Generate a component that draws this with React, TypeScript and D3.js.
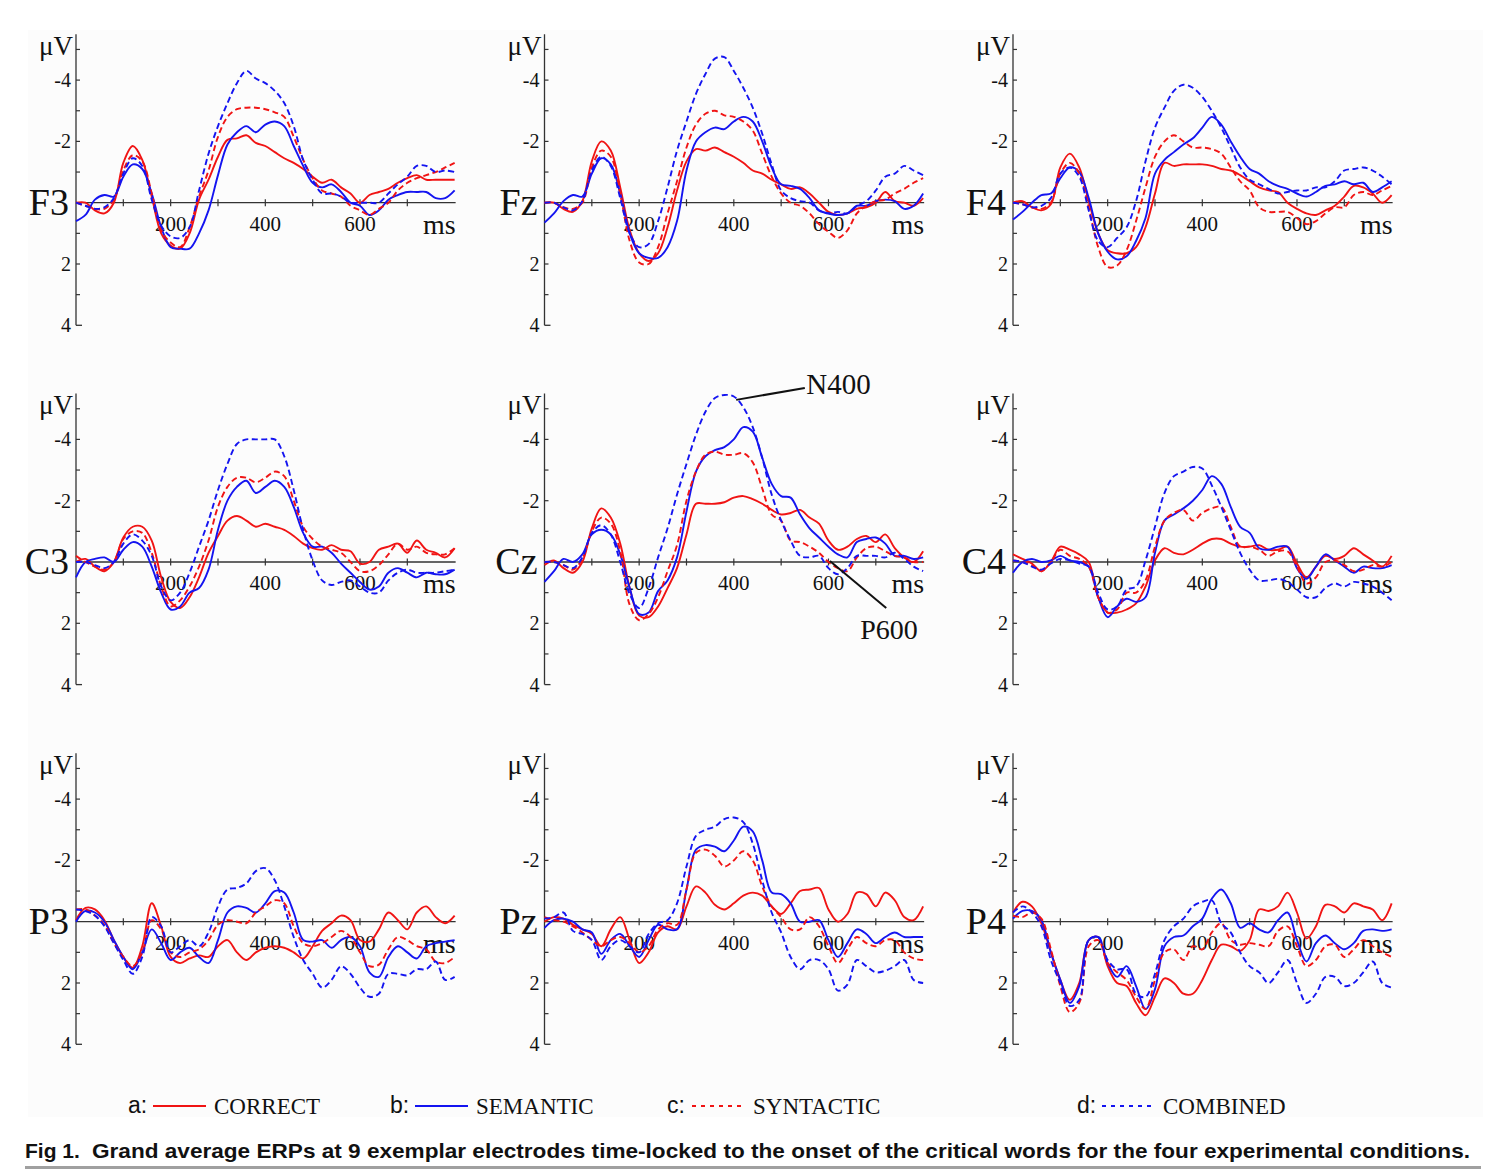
import React from "react";
import * as d3 from "d3";

// time axis (ms) shared by every trace
const TIME_MS = [
  0, 20, 40, 60, 80, 100, 120, 140, 160, 180, 200, 220, 240, 260, 280, 300, 320, 340, 360, 380, 400,
  420, 440, 460, 480, 500, 520, 540, 560, 580, 600, 620, 640, 660, 680, 700, 720, 740, 760, 780, 800,
];

// amplitudes in µV (negative plotted up)
const F3_CORRECT = [0, 0, 0.25, 0.35, 0, -1.3, -1.85, -1.4, -0.2, 1.0, 1.4, 1.5, 1.0, -0.1, -0.75, -1.5, -2.05, -2.1, -2.2, -1.95, -1.85, -1.65, -1.45, -1.3, -1.1, -0.85, -0.65, -0.75, -0.5, -0.3, 0, -0.25, -0.35, -0.45, -0.65, -0.8, -0.9, -0.75, -0.75, -0.75, -0.75];
const F3_SEMANTIC = [0.6, 0.4, -0.1, -0.25, -0.2, -0.85, -1.25, -1.1, -0.3, 0.8, 1.45, 1.5, 1.5, 1.0, 0.25, -0.9, -1.9, -2.3, -2.5, -2.3, -2.55, -2.65, -2.5, -1.85, -1.2, -0.65, -0.5, -0.6, -0.35, 0, 0.1, 0.4, 0.25, -0.1, -0.25, -0.35, -0.35, -0.35, -0.15, -0.15, -0.4];
const F3_SYNTACTIC = [0, 0.1, 0.2, 0.2, -0.1, -1.05, -1.55, -1.35, -0.3, 0.9, 1.3, 1.45, 0.8, -0.2, -1.05, -2.15, -2.8, -3.05, -3.1, -3.1, -3.05, -2.95, -2.8, -2.15, -1.4, -0.8, -0.4, -0.3, -0.2, 0.1, 0.25, 0.4, 0.2, 0, -0.4, -0.65, -0.8, -0.9, -1.0, -1.15, -1.3];
const F3_COMBINED = [0, 0.1, 0.2, 0.15, -0.15, -0.95, -1.45, -1.2, -0.1, 0.75, 1.1, 1.15, 0.8, -0.4, -1.6, -2.5, -3.25, -3.9, -4.3, -4.05, -3.9, -3.65, -3.25, -2.5, -1.4, -0.75, -0.3, -0.3, -0.2, 0, 0, 0, 0, -0.3, -0.6, -0.85, -1.2, -1.2, -1.0, -1.05, -1.0];

const FZ_CORRECT = [0, 0, 0.2, 0.3, -0.05, -1.35, -2.0, -1.7, -0.5, 0.9, 1.65, 1.9, 1.65, 0.8, -0.4, -1.35, -1.75, -1.7, -1.8, -1.65, -1.5, -1.3, -1.05, -0.95, -0.75, -0.6, -0.45, -0.5, -0.3, 0, 0.3, 0.4, 0.35, 0.2, 0.15, 0, -0.35, -0.05, 0, 0.1, -0.15];
const FZ_SEMANTIC = [0.65, 0.35, -0.05, -0.25, -0.2, -0.95, -1.45, -1.25, -0.3, 1.0, 1.65, 1.8, 1.8, 1.45, 0.6, -1.05, -2.0, -2.3, -2.45, -2.4, -2.65, -2.8, -2.65, -2.0, -1.15, -0.6, -0.55, -0.45, -0.15, 0.25, 0.35, 0.4, 0.35, 0.1, 0.1, -0.05, -0.1, -0.05, 0.2, 0.1, -0.3];
const FZ_SYNTACTIC = [0, 0, 0.15, 0.2, 0, -1.15, -1.7, -1.5, -0.3, 1.25, 1.95, 2.0, 1.45, 0.35, -0.7, -1.8, -2.55, -2.9, -3.0, -2.85, -2.8, -2.65, -2.35, -1.6, -0.85, -0.3, 0, 0.1, 0.35, 0.7, 0.95, 1.15, 0.9, 0.35, 0.1, -0.05, -0.1, -0.3, -0.45, -0.65, -0.8];
const FZ_COMBINED = [0, 0, 0.15, 0.25, -0.05, -1.05, -1.5, -1.2, -0.15, 1.0, 1.45, 1.35, 0.6, -0.5, -1.7, -2.65, -3.55, -4.2, -4.7, -4.75, -4.3, -3.75, -3.1, -2.25, -1.25, -0.4, -0.15, -0.05, 0, 0.25, 0.35, 0.3, 0.35, 0.1, -0.05, -0.4, -0.85, -0.95, -1.2, -1.05, -0.9];

const F4_CORRECT = [0, -0.05, 0.15, 0.25, 0.05, -1.15, -1.6, -1.15, -0.05, 1.0, 1.55, 1.65, 1.65, 1.45, 0.8, -0.3, -1.3, -1.2, -1.25, -1.25, -1.25, -1.2, -1.1, -1.05, -0.9, -0.7, -0.5, -0.4, -0.35, 0, 0.2, 0.35, 0.4, 0.25, 0.1, -0.2, -0.55, -0.5, -0.3, 0, -0.25];
const F4_SEMANTIC = [0.55, 0.3, 0, -0.25, -0.3, -0.8, -1.15, -1.0, -0.15, 1.0, 1.6, 1.85, 1.75, 1.25, 0.5, -0.95, -1.4, -1.65, -1.9, -2.1, -2.45, -2.8, -2.55, -2.0, -1.5, -1.1, -0.95, -0.7, -0.55, -0.45, -0.3, -0.2, -0.35, -0.55, -0.6, -0.7, -0.6, -0.65, -0.35, -0.5, -0.7];
const F4_SYNTACTIC = [0, 0.05, 0.15, 0.2, 0, -0.95, -1.3, -0.95, 0.15, 1.45, 2.1, 2.05, 1.55, 0.6, -0.5, -1.5, -2.0, -2.2, -2.0, -1.8, -1.8, -1.75, -1.6, -1.15, -0.7, -0.4, 0.15, 0.3, 0.3, 0.3, 0.5, 0.7, 0.6, 0.35, 0.15, 0.15, -0.25, -0.35, -0.25, -0.4, -0.55];
const F4_COMBINED = [0, 0.05, 0.15, 0.1, -0.15, -0.95, -1.15, -0.85, 0.25, 1.25, 1.45, 1.15, 0.8, -0.05, -1.35, -2.45, -3.1, -3.65, -3.85, -3.75, -3.45, -3.0, -2.45, -1.8, -1.15, -0.75, -0.6, -0.45, -0.3, -0.35, -0.4, -0.4, -0.5, -0.5, -0.7, -1.05, -1.1, -1.15, -1.05, -0.85, -0.6];

const C3_CORRECT = [0, -0.1, 0.15, 0.3, 0, -0.8, -1.15, -1.15, -0.7, 0.5, 1.3, 1.5, 1.15, 0.5, -0.3, -0.85, -1.35, -1.5, -1.35, -1.15, -1.25, -1.15, -1.05, -0.85, -0.6, -0.45, -0.4, -0.55, -0.4, -0.35, 0.05, 0, -0.4, -0.5, -0.6, -0.3, -0.7, -0.4, -0.3, -0.15, -0.45];
const C3_SEMANTIC = [0.5, 0, -0.1, -0.15, 0, -0.4, -0.65, -0.5, 0.15, 1.0, 1.55, 1.45, 1.0, 0.85, 0.25, -1.05, -2.0, -2.45, -2.65, -2.25, -2.45, -2.65, -2.45, -1.8, -0.95, -0.5, -0.5, -0.3, 0.05, 0.35, 0.65, 0.9, 0.8, 0.35, 0.2, 0.35, 0.5, 0.35, 0.4, 0.4, 0.25];
const C3_SYNTACTIC = [-0.2, 0, 0.15, 0.25, 0, -0.75, -1.0, -0.95, -0.3, 0.8, 1.45, 1.25, 0.8, 0.15, -0.7, -1.8, -2.45, -2.75, -2.75, -2.6, -2.75, -2.95, -2.8, -2.0, -1.15, -0.75, -0.5, -0.4, -0.3, 0, 0.3, 0.3, 0.1, -0.25, -0.6, -0.4, -0.5, -0.3, -0.25, -0.25, -0.45];
const C3_COMBINED = [0, 0, 0.1, 0.2, 0, -0.6, -0.9, -0.7, -0.2, 0.8, 1.25, 1.0, 0.35, -0.5, -1.35, -2.35, -3.2, -3.85, -4.0, -4.0, -4.0, -4.0, -3.45, -2.35, -1.05, -0.05, 0.6, 0.75, 0.65, 0.6, 0.8, 1.0, 1.0, 0.6, 0.35, 0.25, 0.35, 0.35, 0.35, 0.3, 0.25];

const CZ_CORRECT = [0.1, -0.05, 0.2, 0.35, 0, -1.1, -1.75, -1.45, -0.6, 0.85, 1.75, 1.8, 1.45, 0.85, 0.2, -0.9, -1.9, -1.9, -1.9, -1.95, -2.1, -2.15, -2.05, -1.9, -1.7, -1.55, -1.6, -1.7, -1.45, -1.25, -0.7, -0.4, -0.5, -0.75, -0.85, -0.65, -0.9, -0.45, -0.15, 0, -0.35];
const CZ_SEMANTIC = [0.65, 0.3, -0.1, 0, -0.25, -0.9, -1.05, -0.9, -0.25, 0.85, 1.7, 1.65, 0.95, 0.6, -0.15, -1.65, -2.95, -3.45, -3.65, -3.75, -4.0, -4.4, -4.25, -3.4, -2.55, -2.15, -2.1, -1.55, -1.1, -0.8, -0.5, -0.25, -0.15, -0.65, -0.75, -0.8, -0.6, -0.2, -0.2, -0.1, -0.15];
const CZ_SYNTACTIC = [0, 0, 0.1, 0.25, -0.1, -1.0, -1.45, -1.25, -0.35, 1.4, 1.9, 1.7, 1.15, 0.3, -0.55, -2.0, -2.95, -3.5, -3.6, -3.5, -3.5, -3.55, -3.25, -2.4, -1.55, -1.35, -0.7, -0.65, -0.5, -0.3, 0, 0.2, 0.3, -0.15, -0.45, -0.5, -0.35, -0.2, -0.15, 0, 0];
const CZ_COMBINED = [0, 0, 0.1, 0.2, -0.15, -0.95, -1.2, -0.9, 0, 1.05, 1.5, 0.85, -0.15, -1.1, -2.2, -3.2, -4.15, -4.9, -5.35, -5.45, -5.4, -5.05, -4.4, -3.4, -2.2, -1.35, -0.7, -0.2, -0.15, -0.2, 0.2, 0.4, 0.2, -0.2, -0.2, -0.2, -0.15, -0.3, -0.1, 0.15, 0.3];

const C4_CORRECT = [-0.25, -0.1, 0.05, 0.3, 0, -0.5, -0.4, -0.25, 0, 1.15, 1.65, 1.65, 1.55, 1.35, 0.8, -0.05, -0.45, -0.3, -0.25, -0.4, -0.6, -0.75, -0.75, -0.6, -0.5, -0.5, -0.55, -0.4, -0.4, -0.5, 0.05, 0.5, 0.15, -0.2, -0.1, -0.2, -0.45, -0.25, -0.05, 0.15, -0.2];
const C4_SEMANTIC = [0.35, 0, -0.1, 0, -0.05, -0.2, -0.05, 0, 0.15, 1.15, 1.8, 1.45, 1.2, 1.3, 1.15, -0.3, -1.35, -1.55, -1.75, -2.0, -2.35, -2.8, -2.55, -1.8, -1.15, -0.95, -0.45, -0.4, -0.5, -0.5, 0.2, 0.55, 0.15, -0.25, -0.05, 0.15, 0.35, 0.15, 0.2, 0.2, 0.1];
const C4_SYNTACTIC = [-0.05, 0, 0.1, 0.3, 0, -0.4, -0.2, -0.1, 0.15, 1.15, 1.65, 1.55, 1.0, 1.0, 0.6, -0.5, -1.35, -1.6, -1.7, -1.35, -1.6, -1.75, -1.8, -1.15, -0.5, -0.5, -0.4, -0.2, -0.35, -0.35, 0.15, 0.7, 0.5, 0, -0.05, 0.1, 0.3, 0.25, 0.1, 0.15, 0];
const C4_COMBINED = [-0.05, 0, 0.15, 0.25, 0.05, -0.1, -0.05, 0.05, 0.15, 1.0, 1.55, 1.45, 0.9, 0.8, -0.05, -1.15, -2.25, -2.8, -2.95, -3.1, -3.05, -2.5, -1.8, -1.05, -0.3, 0.25, 0.6, 0.6, 0.55, 0.65, 0.9, 1.15, 1.15, 0.85, 0.7, 0.8, 0.65, 0.7, 0.8, 1.0, 1.25];

const P3_CORRECT = [-0.05, -0.45, -0.4, -0.05, 0.6, 1.15, 1.5, 0.8, -0.6, 0.15, 1.15, 1.35, 1.2, 1.1, 1.15, 0.8, 0.6, 1.0, 1.25, 1.0, 0.85, 0.8, 0.85, 1.0, 1.2, 0.8, 0.3, 0.05, -0.2, -0.05, 0.6, 0.65, 0.25, -0.3, -0.05, 0.25, -0.3, -0.5, -0.15, 0.05, -0.2];
const P3_SEMANTIC = [0, -0.35, -0.3, 0, 0.6, 1.15, 1.55, 1.0, 0.25, 0.7, 1.25, 1.0, 0.85, 1.15, 1.35, 0.6, -0.3, -0.5, -0.45, -0.3, -0.6, -1.0, -0.95, -0.3, 0.6, 0.65, 0.6, 0.85, 0.6, 0.5, 0.8, 1.65, 1.8, 1.15, 0.8, 1.0, 1.2, 0.8, 0.7, 0.65, 0.6];
const P3_SYNTACTIC = [-0.4, -0.4, -0.2, 0.1, 0.7, 1.15, 1.45, 1.0, -0.05, 0.25, 1.0, 1.15, 1.0, 0.9, 0.6, 0.1, -0.05, 0, 0.05, -0.3, -0.5, -0.7, -0.6, 0.15, 0.7, 0.8, 0.7, 0.5, 0.3, 0.5, 1.0, 1.45, 1.4, 0.9, 0.5, 0.6, 0.8, 0.9, 1.3, 1.35, 1.15];
const P3_COMBINED = [-0.4, -0.35, -0.2, 0.15, 0.7, 1.25, 1.7, 1.15, -0.15, 0.15, 1.0, 0.8, 0.6, 0.8, 0.35, -0.5, -1.05, -1.1, -1.25, -1.65, -1.75, -1.35, -0.5, 0.5, 1.25, 1.7, 2.15, 1.9, 1.45, 1.7, 2.15, 2.45, 2.35, 1.7, 1.7, 1.75, 1.55, 1.55, 1.3, 1.9, 1.8];

const PZ_CORRECT = [0, -0.15, -0.1, 0.1, 0.25, 0.4, 0.8, 0.25, -0.15, 0.6, 1.35, 1.0, 0.35, 0.15, 0.25, -0.5, -1.15, -0.95, -0.55, -0.4, -0.6, -0.85, -0.95, -0.85, -0.5, -0.25, -0.6, -1.0, -1.05, -1.1, -0.4, 0, -0.25, -0.95, -0.9, -0.5, -0.95, -0.7, -0.15, -0.05, -0.5];
const PZ_SEMANTIC = [0.2, -0.05, -0.1, 0, 0.25, 0.35, 1.05, 0.6, 0.4, 0.8, 1.15, 0.6, 0.1, 0.25, 0.25, -1.05, -2.35, -2.5, -2.45, -2.3, -2.65, -3.1, -2.95, -2.0, -0.95, -0.9, -0.6, 0, 0, -0.05, 0.6, 1.15, 0.7, 0.25, 0.4, 0.7, 0.5, 0.35, 0.5, 0.5, 0.5];
const PZ_SYNTACTIC = [-0.15, -0.05, 0, 0.15, 0.35, 0.6, 0.8, 0.6, 0.5, 0.7, 1.0, 0.8, 0.25, 0.05, 0.1, -1.05, -2.25, -2.35, -2.15, -1.8, -2.0, -2.3, -2.0, -1.15, -0.5, -0.15, 0.25, 0.25, -0.15, 0.15, 0.8, 1.35, 0.9, 0.5, 0.7, 0.8, 0.6, 0.6, 1.0, 1.2, 1.25];
const PZ_COMBINED = [-0.1, -0.15, -0.3, 0.3, 0.4, 0.6, 1.25, 0.8, 0.6, 0.8, 1.0, 0.4, 0.05, -0.05, -0.6, -1.8, -2.8, -3.0, -3.1, -3.35, -3.4, -3.25, -2.55, -1.35, -0.3, 0.35, 1.15, 1.55, 1.25, 1.25, 1.55, 2.25, 2.05, 1.25, 1.45, 1.65, 1.6, 1.45, 1.25, 1.9, 2.0];

const P4_CORRECT = [-0.3, -0.65, -0.5, 0.05, 1.0, 1.9, 2.55, 2.0, 0.6, 0.5, 1.45, 2.0, 2.1, 2.65, 3.05, 2.45, 1.85, 2.0, 2.35, 2.35, 1.9, 1.25, 0.75, 0.8, 0.95, 0.6, -0.4, -0.35, -0.5, -0.95, -0.3, 0.55, 0.15, -0.55, -0.5, -0.3, -0.6, -0.5, -0.4, -0.05, -0.6];
const P4_SEMANTIC = [-0.1, -0.35, -0.35, -0.05, 1.0, 1.9, 2.65, 2.1, 0.6, 0.5, 1.35, 1.8, 1.45, 2.1, 2.85, 2.2, 0.8, 0.5, 0.45, 0.15, -0.1, -0.75, -1.05, -0.6, 0.2, 0.05, 0.25, 0.35, -0.05, -0.3, 0.6, 1.3, 0.7, 0.45, 0.7, 0.9, 0.7, 0.3, 0.25, 0.3, 0.25];
const P4_SYNTACTIC = [-0.2, -0.15, -0.3, -0.1, 0.9, 2.1, 2.95, 2.65, 0.8, 0.6, 1.35, 1.65, 1.9, 2.45, 2.85, 1.9, 1.0, 0.9, 1.25, 0.8, 0.9, 0.35, 0.05, 0.6, 0.75, 0.7, 0.75, 0.8, 0.3, 0.15, 0.8, 1.45, 1.25, 0.8, 0.75, 1.15, 0.9, 0.6, 0.8, 1.0, 1.15];
const P4_COMBINED = [-0.3, -0.5, -0.3, 0.15, 1.25, 2.0, 2.75, 2.55, 0.6, 0.5, 1.25, 1.55, 1.55, 2.35, 2.45, 1.7, 0.6, 0.15, -0.1, -0.5, -0.65, -0.7, 0.05, 0.35, 1.0, 1.45, 1.65, 2.0, 1.65, 1.25, 2.0, 2.65, 2.35, 1.8, 1.8, 2.1, 2.0, 1.65, 1.3, 2.0, 2.15];

const ELECTRODES = ["F3", "Fz", "F4", "C3", "Cz", "C4", "P3", "Pz", "P4"];
const CONDITIONS = ["CORRECT", "SEMANTIC", "SYNTACTIC", "COMBINED"];
const LEGEND_KEYS = ["a:", "b:", "c:", "d:"];
const X_LABELS = [200, 400, 600];
const X_TICKS = [100, 200, 300, 400, 500, 600, 700];
const Y_LABELS = [-4, -2, 2, 4];
const Y_TICKS = [-5, -4, -3, -2, -1, 1, 2, 3];

const SERIES: Record<string, number[][]> = {
  F3: [F3_CORRECT, F3_SEMANTIC, F3_SYNTACTIC, F3_COMBINED],
  Fz: [FZ_CORRECT, FZ_SEMANTIC, FZ_SYNTACTIC, FZ_COMBINED],
  F4: [F4_CORRECT, F4_SEMANTIC, F4_SYNTACTIC, F4_COMBINED],
  C3: [C3_CORRECT, C3_SEMANTIC, C3_SYNTACTIC, C3_COMBINED],
  Cz: [CZ_CORRECT, CZ_SEMANTIC, CZ_SYNTACTIC, CZ_COMBINED],
  C4: [C4_CORRECT, C4_SEMANTIC, C4_SYNTACTIC, C4_COMBINED],
  P3: [P3_CORRECT, P3_SEMANTIC, P3_SYNTACTIC, P3_COMBINED],
  Pz: [PZ_CORRECT, PZ_SEMANTIC, PZ_SYNTACTIC, PZ_COMBINED],
  P4: [P4_CORRECT, P4_SEMANTIC, P4_SYNTACTIC, P4_COMBINED],
};

// layout
const W = 1499;
const H = 1170;
const COL_X = [76, 544.5, 1013];
const ROW_Y = [202.7, 562, 921.7];
const PX_MS = 0.4733;
const PX_UV = 30.65;

const RED = "#f01414";
const BLUE = "#1414f0";
const STYLE = [
  { color: RED, dash: null },
  { color: BLUE, dash: null },
  { color: RED, dash: "6,3.5" },
  { color: BLUE, dash: "6,3.5" },
];
const SERIF = '"Liberation Serif", "Times New Roman", serif';
const SANS = '"Liberation Sans", Arial, sans-serif';
const AXIS = "#333";

const Panel: React.FC<{ name: string; idx: number }> = ({ name, idx }) => {
  const ax = COL_X[idx % 3];
  const zy = ROW_Y[Math.floor(idx / 3)];
  const x = d3.scaleLinear().domain([0, 800]).range([ax, ax + 800 * PX_MS]);
  const y = d3
    .scaleLinear()
    .domain([-5.5, 4])
    .range([zy - 5.5 * PX_UV, zy + 4 * PX_UV]);

  const line = d3
    .line<[number, number]>()
    .x((d) => x(d[0]))
    .y((d) => y(d[1]))
    .curve(d3.curveCatmullRom.alpha(0.5));

  const series = SERIES[name];

  return (
    <g>
      {/* y axis */}
      <line x1={ax} x2={ax} y1={y(-5.5)} y2={y(4)} stroke={AXIS} strokeWidth={1.3} />
      {Y_TICKS.map((t) => (
        <line key={t} x1={ax} x2={ax + 4} y1={y(t)} y2={y(t)} stroke={AXIS} strokeWidth={1.2} />
      ))}
      <line x1={ax} x2={ax + 6} y1={y(4)} y2={y(4)} stroke={AXIS} strokeWidth={1.3} />
      {Y_LABELS.map((t) => (
        <text key={t} x={ax - 5} y={y(t)} dy="0.35em" textAnchor="end" fontFamily={SERIF} fontSize={20} fill="#111">
          {t < 0 ? `-${Math.abs(t)}` : t}
        </text>
      ))}
      <text x={ax - 3} y={zy - 148} textAnchor="end" fontFamily={SERIF} fontSize={27} fill="#111">
        μV
      </text>
      <text x={ax - 7} y={zy + 12} textAnchor="end" fontFamily={SERIF} fontSize={38} fill="#111">
        {name}
      </text>

      {/* x axis */}
      <line x1={ax} x2={x(800) + 1} y1={zy} y2={zy} stroke={AXIS} strokeWidth={1.3} />
      {X_TICKS.map((t) => (
        <line key={t} x1={x(t)} x2={x(t)} y1={zy - 3.5} y2={zy + 3.5} stroke={AXIS} strokeWidth={1.2} />
      ))}
      {X_LABELS.map((t) => (
        <text key={t} x={x(t)} y={zy + 28} textAnchor="middle" fontFamily={SERIF} fontSize={21} fill="#111">
          {t}
        </text>
      ))}
      <text x={x(800) + 1} y={zy + 31} textAnchor="end" fontFamily={SERIF} fontSize={28} fill="#111">
        ms
      </text>

      {/* traces */}
      {series.map((vals, i) => {
        const pts: [number, number][] = vals.slice(0, TIME_MS.length).map((v, j) => [TIME_MS[j], v]);
        return (
          <path
            key={CONDITIONS[i]}
            d={line(pts) ?? ""}
            fill="none"
            stroke={STYLE[i].color}
            strokeWidth={1.9}
            strokeDasharray={STYLE[i].dash ?? undefined}
          />
        );
      })}
    </g>
  );
};

const App: React.FC = () => {
  // Cz scales for the component annotations
  const czX = d3.scaleLinear().domain([0, 800]).range([COL_X[1], COL_X[1] + 800 * PX_MS]);
  const czY = d3
    .scaleLinear()
    .domain([-5.5, 4])
    .range([ROW_Y[1] - 5.5 * PX_UV, ROW_Y[1] + 4 * PX_UV]);

  const legendX = [128, 390, 667, 1077];
  const legendY = 1113;

  return (
    <svg
      width={W}
      height={H}
      viewBox={`0 0 ${W} ${H}`}
      style={{ position: "absolute", left: 0, top: 0, background: "#fff" }}
    >
      <rect x={28} y={30} width={1455} height={1087} fill="#fcfcfc" />

      {ELECTRODES.map((name, i) => (
        <Panel key={name} name={name} idx={i} />
      ))}

      {/* annotations */}
      <line x1={czX(405)} y1={czY(-5.29)} x2={czX(550)} y2={czY(-5.68)} stroke="#111" strokeWidth={2} />
      <text x={czX(553)} y={czY(-5.48)} fontFamily={SERIF} fontSize={29} fill="#111">
        N400
      </text>
      <line x1={czX(603)} y1={czY(-0.03)} x2={czX(722)} y2={czY(1.5)} stroke="#111" strokeWidth={2} />
      <text x={czX(667)} y={czY(2.5)} fontFamily={SERIF} fontSize={28} fill="#111">
        P600
      </text>

      {/* legend */}
      {CONDITIONS.map((c, i) => {
        const lx = legendX[i];
        return (
          <g key={c}>
            <text x={lx} y={legendY} fontFamily={SANS} fontSize={23} fill="#111">
              {LEGEND_KEYS[i]}
            </text>
            <line
              x1={lx + 25}
              x2={lx + (i < 2 ? 78 : 75)}
              y1={legendY - 7}
              y2={legendY - 7}
              stroke={STYLE[i].color}
              strokeWidth={1.8}
              strokeDasharray={STYLE[i].dash ? "4,5" : undefined}
            />
            <text x={lx + 86} y={legendY + 1} fontFamily={SERIF} fontSize={23} fill="#111">
              {c}
            </text>
          </g>
        );
      })}

      {/* caption */}
      <text x={25} y={1158} fontFamily={SANS} fontWeight="bold" fontSize={21} fill="#111">
        Fig 1.
      </text>
      <text
        x={92}
        y={1158}
        fontFamily={SANS}
        fontWeight="bold"
        fontSize={21}
        fill="#111"
        textLength={1378}
        lengthAdjust="spacingAndGlyphs"
      >
        Grand average ERPs at 9 exemplar electrodes time-locked to the onset of the critical words for the four
        experimental conditions.
      </text>
      <line x1={25} x2={1481} y1={1167.5} y2={1167.5} stroke="#a0a0a0" strokeWidth={3} />
    </svg>
  );
};

export default App;
